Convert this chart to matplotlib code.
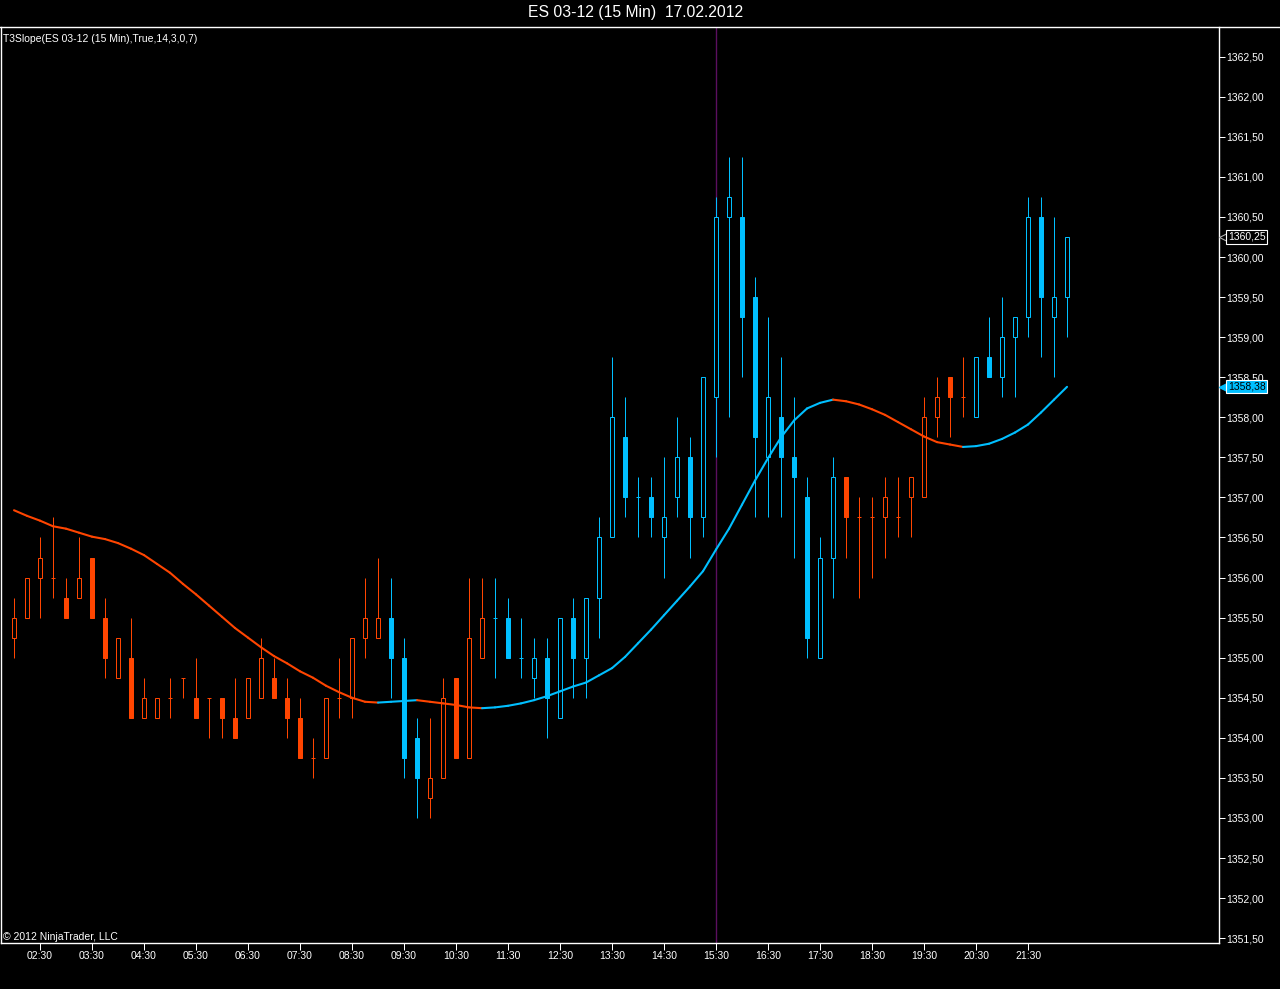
"""NinjaTrader-style 15 min ES candlestick chart with T3Slope overlay."""

import matplotlib

matplotlib.use("Agg")
import matplotlib.pyplot as plt
from matplotlib.collections import LineCollection
from matplotlib.lines import Line2D
from matplotlib.patches import Rectangle
from matplotlib.transforms import blended_transform_factory, offset_copy
import numpy as np
import pandas as pd

plt.rcParams["font.family"] = ["Liberation Sans", "DejaVu Sans"]

title = "ES 03-12 (15 Min)  17.02.2012"
indicator_label = "T3Slope(ES 03-12 (15 Min),True,14,3,0,7)"
copyright_label = "\u00a9 2012 NinjaTrader, LLC"
session_start = "2012-02-17 02:00"
marker_bar = 54  # vertical purple line (15:30)

opens = [1355.25, 1355.5, 1356.0, 1356.0, 1355.75, 1355.75, 1356.25, 1355.5, 1354.75, 1355.0,
         1354.25, 1354.25, 1354.5, 1354.75, 1354.5, 1354.5, 1354.5, 1354.25, 1354.25, 1354.5,
         1354.75, 1354.5, 1354.25, 1353.75, 1353.75, 1354.5, 1354.5, 1355.25, 1355.25, 1355.5,
         1355.0, 1354.0, 1353.25, 1353.5, 1354.75, 1353.75, 1355.0, 1355.5, 1355.5, 1355.0,
         1354.75, 1355.0, 1354.25, 1355.5, 1355.0, 1355.75, 1356.5, 1357.75, 1357.0, 1357.0,
         1356.5, 1357.0, 1357.5, 1356.75, 1358.25, 1360.5, 1360.5, 1359.5, 1357.5, 1358.0,
         1357.5, 1357.0, 1355.0, 1356.25, 1357.25, 1356.75, 1356.75, 1356.75, 1356.75, 1357.0,
         1357.0, 1358.0, 1358.5, 1358.25, 1358.0, 1358.75, 1358.5, 1359.0, 1359.25, 1360.5,
         1359.25, 1359.5]
highs = [1355.75, 1356.0, 1356.5, 1356.75, 1356.0, 1356.5, 1356.25, 1355.75, 1355.25, 1355.5,
         1354.75, 1354.5, 1354.75, 1354.75, 1355.0, 1354.5, 1354.5, 1354.75, 1354.75, 1355.25,
         1355.0, 1354.75, 1354.5, 1354.0, 1354.5, 1355.0, 1355.25, 1356.0, 1356.25, 1356.0,
         1355.25, 1354.25, 1354.25, 1354.75, 1354.75, 1356.0, 1356.0, 1356.0, 1355.75, 1355.5,
         1355.25, 1355.25, 1355.5, 1355.75, 1355.75, 1356.75, 1358.75, 1358.25, 1357.25, 1357.25,
         1357.5, 1358.0, 1357.75, 1358.5, 1360.75, 1361.25, 1361.25, 1359.75, 1359.25, 1358.75,
         1358.25, 1357.25, 1356.5, 1357.5, 1357.25, 1357.0, 1357.0, 1357.25, 1357.25, 1357.25,
         1358.25, 1358.5, 1358.5, 1358.75, 1358.75, 1359.25, 1359.5, 1359.25, 1360.75, 1360.75,
         1360.5, 1360.25]
lows = [1355.0, 1355.5, 1355.5, 1355.75, 1355.5, 1355.75, 1355.5, 1354.75, 1354.75, 1354.25,
        1354.25, 1354.25, 1354.25, 1354.5, 1354.25, 1354.0, 1354.0, 1354.0, 1354.25, 1354.5,
        1354.5, 1354.0, 1353.75, 1353.5, 1353.75, 1354.25, 1354.25, 1355.0, 1355.25, 1354.5,
        1353.5, 1353.0, 1353.0, 1353.5, 1353.75, 1353.75, 1355.0, 1354.75, 1355.0, 1354.75,
        1354.5, 1354.0, 1354.25, 1354.5, 1354.5, 1355.25, 1356.5, 1356.75, 1356.5, 1356.5,
        1356.0, 1356.75, 1356.25, 1356.5, 1357.5, 1358.0, 1358.5, 1356.75, 1356.75, 1356.75,
        1356.25, 1355.0, 1355.0, 1355.75, 1356.25, 1355.75, 1356.0, 1356.25, 1356.5, 1356.5,
        1357.0, 1357.75, 1357.75, 1358.0, 1358.0, 1358.5, 1358.25, 1358.25, 1359.0, 1358.75,
        1358.5, 1359.0]
closes = [1355.5, 1356.0, 1356.25, 1356.0, 1355.5, 1356.0, 1355.5, 1355.0, 1355.25, 1354.25,
          1354.5, 1354.5, 1354.5, 1354.75, 1354.25, 1354.5, 1354.25, 1354.0, 1354.75, 1355.0,
          1354.5, 1354.25, 1353.75, 1353.75, 1354.5, 1354.5, 1355.25, 1355.5, 1355.5, 1355.0,
          1353.75, 1353.5, 1353.5, 1354.5, 1353.75, 1355.25, 1355.5, 1355.5, 1355.0, 1355.0,
          1355.0, 1354.5, 1355.5, 1355.0, 1355.75, 1356.5, 1358.0, 1357.0, 1357.0, 1356.75,
          1356.75, 1357.5, 1356.75, 1358.5, 1360.5, 1360.75, 1359.25, 1357.75, 1358.25, 1357.5,
          1357.25, 1355.25, 1356.25, 1357.25, 1356.75, 1356.75, 1356.75, 1357.0, 1356.75, 1357.25,
          1358.0, 1358.25, 1358.25, 1358.25, 1358.75, 1358.5, 1359.0, 1359.25, 1360.5, 1359.5,
          1359.5, 1360.25]
t3 = [1356.84, 1356.77, 1356.71, 1356.64, 1356.61, 1356.56, 1356.51, 1356.48, 1356.43, 1356.36,
      1356.28, 1356.17, 1356.06, 1355.92, 1355.79, 1355.65, 1355.51, 1355.37, 1355.25, 1355.13,
      1355.02, 1354.93, 1354.83, 1354.75, 1354.65, 1354.57, 1354.50, 1354.45, 1354.44, 1354.45,
      1354.46, 1354.47, 1354.45, 1354.43, 1354.41, 1354.38, 1354.37, 1354.38, 1354.40, 1354.43,
      1354.47, 1354.52, 1354.58, 1354.64, 1354.69, 1354.78, 1354.87, 1355.01, 1355.18, 1355.35,
      1355.53, 1355.71, 1355.89, 1356.08, 1356.35, 1356.61, 1356.91, 1357.21, 1357.49, 1357.75,
      1357.96, 1358.11, 1358.18, 1358.22, 1358.20, 1358.16, 1358.10, 1358.03, 1357.94, 1357.85,
      1357.76, 1357.69, 1357.66, 1357.63, 1357.64, 1357.67, 1357.73, 1357.81, 1357.91, 1358.06,
      1358.22, 1358.38]

UP = "#00BFFF"
DOWN = "#FF4500"
W, H = 1280, 989
PX = 0.72  # one pixel in points at 100 dpi


def price_label(value):
    return f"{value:.2f}".replace(".", ",")


def main():
    o = np.asarray(opens)
    h = np.asarray(highs)
    lo = np.asarray(lows)
    c = np.asarray(closes)
    t = np.asarray(t3)
    idx = np.arange(len(c))
    rising = np.concatenate([[False], np.diff(t) > 0])
    colors = np.where(rising, UP, DOWN)

    fig = plt.figure(figsize=(W / 100, H / 100), dpi=100, facecolor="black")
    ax = fig.add_axes([0.5 / W, (H - 943) / H, 1218.5 / W, (943 - 27) / H])
    ax.set_facecolor("black")

    # candles
    body_w = 0.29
    for i in idx:
        col = colors[i]
        ax.vlines(i, lo[i], h[i], color=col, lw=PX, zorder=2)
        if c[i] == o[i]:
            ax.hlines(o[i], i - 0.18, i + 0.18, color=col, lw=PX, zorder=2)
            continue
        bottom = min(o[i], c[i])
        face = "black" if c[i] > o[i] else col
        ax.add_patch(Rectangle((i - body_w / 2, bottom), body_w, abs(c[i] - o[i]),
                               facecolor=face, edgecolor=col, lw=PX, joinstyle="miter",
                               snap=True, zorder=2.2))

    # T3 line, coloured by slope
    segments = [[(i - 1, t[i - 1]), (i, t[i])] for i in idx[1:]]
    lc = LineCollection(segments, colors=list(colors[1:]), linewidths=1.5, capstyle="round", zorder=3)
    ax.add_collection(lc)

    ax.axvline(marker_bar, color="#5b0f5f", lw=1.0, zorder=1)

    ax.set_xlim(-1.04, 92.69)
    ax.set_ylim(1351.44, 1362.87)

    # x axis: hourly labels at :30
    times = pd.date_range(session_start, periods=len(c), freq="15min")
    tick_idx = idx[times.minute == 30]
    ax.set_xticks(tick_idx)
    ax.set_xticklabels(times[tick_idx].strftime("%H:%M"))
    yt = np.arange(1351.5, 1362.51, 0.5)
    ax.set_yticks(yt)
    ax.set_yticklabels([price_label(v) for v in yt])
    ax.yaxis.tick_right()
    ax.tick_params(axis="x", colors="white", length=5, width=PX, pad=1, labelsize=7.5)
    ax.tick_params(axis="y", colors="white", length=4.5, width=PX, pad=1, labelsize=7.5)
    for name in ["left", "bottom", "right"]:
        ax.spines[name].set_color("white")
        ax.spines[name].set_linewidth(1)
    ax.spines["top"].set_visible(False)

    # last price / last indicator markers on the price axis
    blend = blended_transform_factory(ax.transAxes, ax.transData)
    tip = offset_copy(blend, fig=fig, x=5, y=0, units="dots")
    ax.annotate(price_label(c[-1]), xy=(1.0, c[-1]), xycoords=blend, xytext=(9, 0),
                textcoords="offset pixels", ha="left", va="center", fontsize=7.5, color="white",
                bbox=dict(boxstyle="square,pad=0.15", fc="black", ec="white", lw=0.8),
                annotation_clip=False, zorder=5)
    ax.plot([1.0], [c[-1]], marker="<", ms=7, mfc="black", mec="#b0b0b0", mew=0.8,
            transform=tip, clip_on=False, zorder=4)
    ax.annotate(price_label(t[-1]), xy=(1.0, t[-1]), xycoords=blend, xytext=(9, 0),
                textcoords="offset pixels", ha="left", va="center", fontsize=7.5, color="black",
                bbox=dict(boxstyle="square,pad=0.15", fc=UP, ec="white", lw=0.8),
                annotation_clip=False, zorder=5)
    ax.plot([1.0], [t[-1]], marker="<", ms=7, mfc=UP, mec=UP, transform=tip, clip_on=False, zorder=4)

    fig.add_artist(Line2D([0, 1], [1 - 27 / H] * 2, transform=fig.transFigure, color="white", lw=1))
    fig.text(635.5 / W, 1 - 13 / H, title, color="white", fontsize=11.3, ha="center", va="center")
    fig.text(3 / W, 1 - 39 / H, indicator_label, color="white", fontsize=7.5, ha="left", va="center")
    fig.text(3 / W, 1 - 937 / H, copyright_label, color="white", fontsize=7.5, ha="left", va="center")

    fig.savefig("out.png", dpi=100, facecolor="black")


if __name__ == "__main__":
    main()
